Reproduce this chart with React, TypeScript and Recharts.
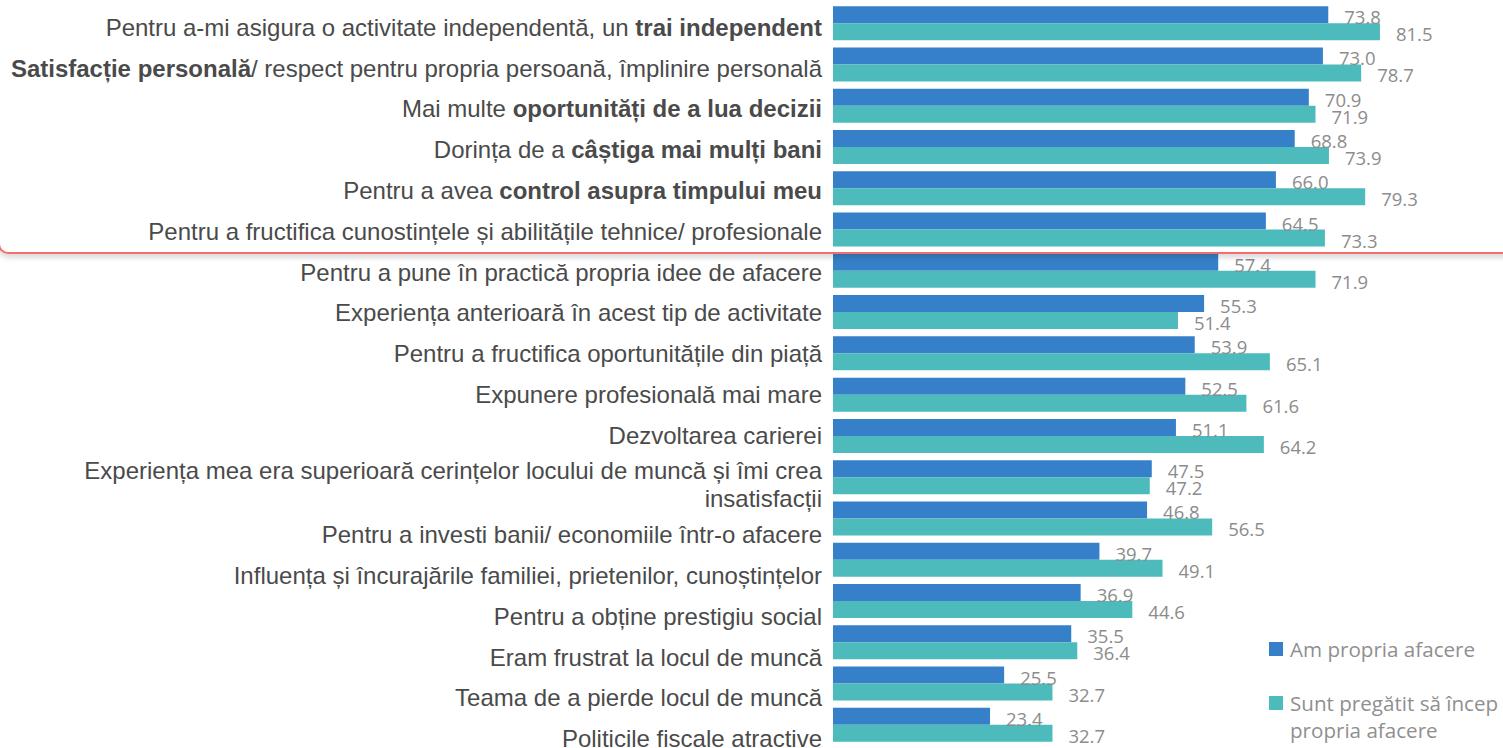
import { Bar, BarChart, LabelList, XAxis, YAxis } from 'recharts'

// category labels, **text** marks the bold part, \n a line break
const categories = [
    'Pentru a-mi asigura o activitate independentă, un **trai independent**',
    '**Satisfacție personală**/ respect pentru propria persoană, împlinire personală',
    'Mai multe **oportunități de a lua decizii**',
    'Dorința de a **câștiga mai mulți bani**',
    'Pentru a avea **control asupra timpului meu**',
    'Pentru a fructifica cunostințele și abilitățile tehnice/ profesionale',
    'Pentru a pune în practică propria idee de afacere',
    'Experiența anterioară în acest tip de activitate',
    'Pentru a fructifica oportunitățile din piață',
    'Expunere profesională mai mare',
    'Dezvoltarea carierei',
    'Experiența mea era superioară cerințelor locului de muncă și îmi crea\ninsatisfacții',
    'Pentru a investi banii/ economiile într-o afacere',
    'Influența și încurajările familiei, prietenilor, cunoștințelor',
    'Pentru a obține prestigiu social',
    'Eram frustrat la locul de muncă',
    'Teama de a pierde locul de muncă',
    'Politicile fiscale atractive',
]

const ownBusiness = [73.8, 73.0, 70.9, 68.8, 66.0, 64.5, 57.4, 55.3, 53.9, 52.5, 51.1, 47.5, 46.8, 39.7, 36.9, 35.5, 25.5, 23.4]
const readyToStart = [81.5, 78.7, 71.9, 73.9, 79.3, 73.3, 71.9, 51.4, 65.1, 61.6, 64.2, 47.2, 56.5, 49.1, 44.6, 36.4, 32.7, 32.7]

const seriesNames = ['Am propria afacere', 'Sunt pregătit să încep\npropria afacere']
const seriesColors = ['#3580c8', '#4dbbbc']

const data = categories.map((name, i) => ({ name, own: ownBusiness[i], ready: readyToStart[i] }))

const labelFont = '"Liberation Sans", Arial, sans-serif'
const valueFont = '"Open Sans", sans-serif'

function CategoryTick({ x, y, payload, index }: any) {
    const lines = String(payload.value).split('\n')
    // excel pushes the labels around the wrapped one a bit
    const shift = 4.7 - 0.5 * index + (index > 11 ? 18 : index === 11 ? 9 : 0)
    const lineHeight = 28
    const firstBaseline = y + shift - ((lines.length - 1) * lineHeight) / 2 + 8.6
    return (
        <text x={x} y={firstBaseline} textAnchor="end" fontFamily={labelFont} fontSize={24} fill="#4a4a4a">
            {lines.map((line, li) => (
                <tspan key={li} x={x} dy={li === 0 ? 0 : lineHeight}>
                    {line.split('**').map((part, pi) => (
                        <tspan key={pi} fontWeight={pi % 2 === 1 ? 'bold' : 'normal'}>
                            {part}
                        </tspan>
                    ))}
                </tspan>
            ))}
        </text>
    )
}

function ValueLabel({ x, y, width, height, value }: any) {
    return (
        <text
            x={Number(x) + Number(width) + 16}
            y={Number(y) + Number(height) / 2 + 2}
            dominantBaseline="central"
            fontFamily={valueFont}
            fontSize={18.5}
            fill="#8c8c8c"
        >
            {Number(value).toFixed(1)}
        </text>
    )
}

function SideLegend() {
    const tops = [636, 690]
    return (
        <>
            {seriesNames.map((name, i) => (
                <div
                    key={name}
                    style={{
                        position: 'absolute',
                        left: 1269,
                        top: tops[i],
                        display: 'flex',
                        fontFamily: valueFont,
                        fontSize: 20.6,
                        lineHeight: '27px',
                        color: '#8f8f8f',
                    }}
                >
                    <span style={{ width: 14, height: 14, marginTop: 6, marginRight: 7, background: seriesColors[i], flexShrink: 0 }} />
                    <span style={{ whiteSpace: 'pre' }}>{name}</span>
                </div>
            ))}
        </>
    )
}

export default function App() {
    return (
        <div style={{ position: 'absolute', left: 0, top: 0, width: 1503, height: 748, overflow: 'hidden', background: '#fff' }}>
            <BarChart
                width={1503}
                height={748}
                data={data}
                layout="vertical"
                margin={{ top: 2, right: 66, bottom: 3, left: 0 }}
                barCategoryGap="10%"
                barGap={0}
            >
                <XAxis type="number" domain={[0, 90]} hide />
                <YAxis
                    type="category"
                    dataKey="name"
                    width={833}
                    axisLine={false}
                    tickLine={false}
                    tickSize={0}
                    tickMargin={11}
                    interval={0}
                    tick={<CategoryTick />}
                />
                <Bar dataKey="own" name="Am propria afacere" fill={seriesColors[0]} isAnimationActive={false}>
                    <LabelList dataKey="own" content={<ValueLabel />} />
                </Bar>
                <Bar dataKey="ready" name="Sunt pregătit să încep propria afacere" fill={seriesColors[1]} isAnimationActive={false}>
                    <LabelList dataKey="ready" content={<ValueLabel />} />
                </Bar>
            </BarChart>
            <SideLegend />
            {/* highlight box round the first six reasons */}
            <div
                style={{
                    position: 'absolute',
                    left: -2,
                    top: -30,
                    width: 1524,
                    height: 280,
                    border: '2px solid #f26e6e',
                    borderRadius: 10,
                    boxShadow: '0 4px 5px rgba(0,0,0,0.14)',
                    pointerEvents: 'none',
                }}
            />
        </div>
    )
}
